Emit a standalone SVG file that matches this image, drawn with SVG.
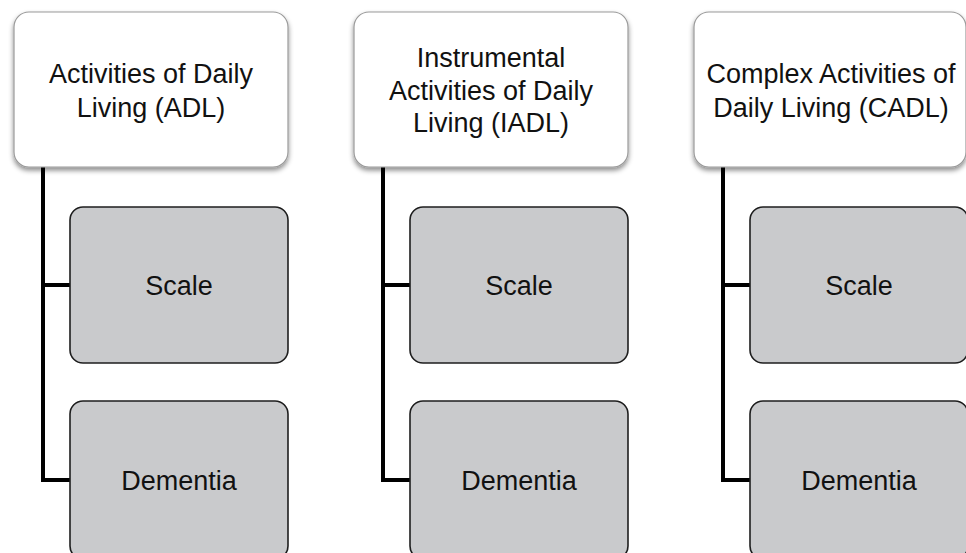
<svg xmlns="http://www.w3.org/2000/svg" width="966" height="553" viewBox="0 0 966 553">
<defs>
<filter id="sh" x="-10%" y="-10%" width="120%" height="130%">
<feDropShadow dx="0" dy="3" stdDeviation="2.5" flood-color="#000" flood-opacity="0.45"/>
</filter>
<style>
.top{fill:#fff;stroke:#9a9a9a;stroke-width:1.2;filter:url(#sh)}
.child{fill:#c9cacc;stroke:#1e1e1e;stroke-width:1.6}
text{font-family:"Liberation Sans",Arial,sans-serif;font-size:27px;fill:#111;text-anchor:middle}
.conn{fill:none;stroke:#000;stroke-width:4;stroke-linejoin:miter}
</style>
</defs>
<rect width="966" height="553" fill="#fff"/>
<g id="connectors">
<path class="conn" d="M43,167 V480 H70 M43,285 H70"/>
<path class="conn" d="M383,167 V480 H410 M383,285 H410"/>
<path class="conn" d="M723,167 V480 H750 M723,285 H750"/>
</g>
<g id="adl">
<rect class="top" x="14" y="12" width="274" height="155" rx="15"/>
<text x="151" y="83">Activities of Daily</text>
<text x="151" y="117">Living  (ADL)</text>
</g>
<g id="adl-scale">
<rect class="child" x="70" y="207" width="218" height="156" rx="13"/>
<text x="179" y="295">Scale</text>
</g>
<g id="adl-dementia">
<rect class="child" x="70" y="401" width="218" height="158" rx="13"/>
<text x="179" y="490">Dementia</text>
</g>
<g id="iadl">
<rect class="top" x="354" y="12" width="274" height="155" rx="15"/>
<text x="491" y="67">Instrumental</text>
<text x="491" y="100">Activities of Daily</text>
<text x="491" y="132">Living (IADL)</text>
</g>
<g id="iadl-scale">
<rect class="child" x="410" y="207" width="218" height="156" rx="13"/>
<text x="519" y="295">Scale</text>
</g>
<g id="iadl-dementia">
<rect class="child" x="410" y="401" width="218" height="158" rx="13"/>
<text x="519" y="490">Dementia</text>
</g>
<g id="cadl">
<rect class="top" x="694" y="12" width="272" height="155" rx="15"/>
<text x="831" y="83">Complex Activities of</text>
<text x="831" y="117">Daily Living (CADL)</text>
</g>
<g id="cadl-scale">
<rect class="child" x="750" y="207" width="218" height="156" rx="13"/>
<text x="859" y="295">Scale</text>
</g>
<g id="cadl-dementia">
<rect class="child" x="750" y="401" width="218" height="158" rx="13"/>
<text x="859" y="490">Dementia</text>
</g>
</svg>
